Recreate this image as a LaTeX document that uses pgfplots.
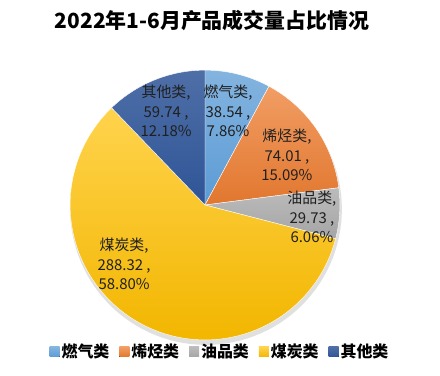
\documentclass[border=0pt]{standalone}
\usepackage{pgfplots}
\pgfplotsset{compat=1.18}
\usepackage{fontspec}
\setmainfont{Noto Sans CJK SC}
\definecolor{cA}{HTML}{5B9BD5}
\definecolor{cB}{HTML}{ED7D31}
\definecolor{cC}{HTML}{A5A5A5}
\definecolor{cD}{HTML}{FFC000}
\definecolor{cE}{HTML}{2F5597}
\definecolor{txt}{HTML}{202020}
% data
\def\vA{38.54}\def\vB{74.01}\def\vC{29.73}\def\vD{288.32}\def\vE{59.74}
\begin{document}%
\begin{tikzpicture}
\pgfmathsetmacro\tot{\vA+\vB+\vC+\vD+\vE}
\pgfmathsetmacro\aA{90}
\pgfmathsetmacro\aB{\aA-360*(\vA/\tot)}
\pgfmathsetmacro\aC{\aB-360*(\vB/\tot)}
\pgfmathsetmacro\aD{\aC-360*(\vC/\tot)}
\pgfmathsetmacro\aE{\aD-360*(\vD/\tot)}
\pgfmathsetmacro\aF{\aE-360*(\vE/\tot)}
\begin{axis}[
  scale only axis, width=440bp, height=375bp,
  xmin=-205, xmax=235, ymin=-170, ymax=205,
  hide axis, clip=false,
  legend style={at={(axis cs:15,-147)}, anchor=center, draw=none, fill=none,
    legend columns=-1, font=\fontsize{16}{18}\selectfont\bfseries,
    /tikz/every even column/.append style={column sep=8bp}},
  legend image code/.code={\fill[#1,draw=none] (0bp,-5bp) rectangle (10bp,5bp);},
]
% shadow
\addplot[forget plot, fill=black, fill opacity=0.12, draw=none, domain=0:360, samples=120] ({136*cos(x)+1},{136*sin(x)-4}) -- cycle;
\addplot[top color=cA!75!white, bottom color=cA, draw=white, line width=0.4pt, domain=\aB:\aA, samples=40] ({135*cos(x)},{135*sin(x)}) -- (axis cs:0,0) -- cycle;
\addlegendentry{燃气类}
\addplot[top color=cB!75!white, bottom color=cB!95!black, draw=white, line width=0.4pt, domain=\aC:\aB, samples=60] ({135*cos(x)},{135*sin(x)}) -- (axis cs:0,0) -- cycle;
\addlegendentry{烯烃类}
\addplot[top color=cC!75!white, bottom color=cC, draw=white, line width=0.4pt, domain=\aD:\aC, samples=40] ({135*cos(x)},{135*sin(x)}) -- (axis cs:0,0) -- cycle;
\addlegendentry{油品类}
\addplot[top color=cD!70!white, bottom color=cD!95!black, draw=white, line width=0.4pt, domain=\aE:\aD, samples=150] ({135*cos(x)},{135*sin(x)}) -- (axis cs:0,0) -- cycle;
\addlegendentry{煤炭类}
\addplot[top color=cE!85!white, bottom color=cE, draw=white, line width=0.4pt, domain=\aF:\aE, samples=40] ({135*cos(x)},{135*sin(x)}) -- (axis cs:0,0) -- cycle;
\addlegendentry{其他类}
\begin{scope}[every node/.style={align=center, text=txt, font=\fontsize{15}{19.5}\selectfont, inner sep=0pt}]
\node at (axis cs:23,94) {燃气类,\\38.54 ,\\7.86\%};
\node at (axis cs:82,50) {烯烃类,\\74.01 ,\\15.09\%};
\node at (axis cs:107,-12) {油品类,\\29.73 ,\\6.06\%};
\node at (axis cs:-81,-59) {煤炭类,\\288.32 ,\\58.80\%};
\node at (axis cs:-39,94) {其他类,\\59.74 ,\\12.18\%};
\end{scope}
\node[font=\fontsize{21}{24}\selectfont\bfseries, text=black] at (axis cs:7,185) {2022年1-6月产品成交量占比情况};
\draw[white, opacity=0] (rel axis cs:0,0) rectangle (rel axis cs:1,1);
\end{axis}
\end{tikzpicture}%
\end{document}
